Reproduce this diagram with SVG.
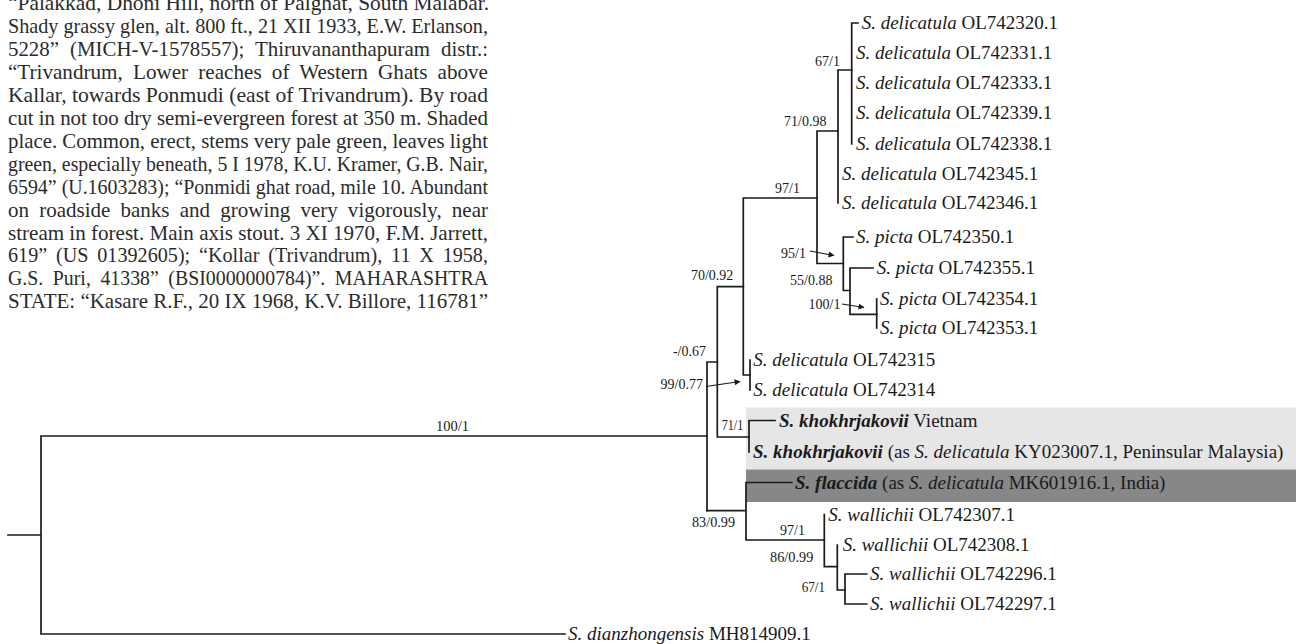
<svg xmlns="http://www.w3.org/2000/svg" width="1296" height="644" viewBox="0 0 1296 644">
<defs>
<style>
text{font-family:"Liberation Serif","Times New Roman",serif}
.body{font-size:21.5px;fill:#2b2b2b}
.tip{font-size:19px;fill:#1a1a1a}
.it{font-style:italic}
.bi{font-style:italic;font-weight:bold}
.sup{font-size:14px;fill:#1a1a1a}
.br{fill:none;stroke:#1a1a1a;stroke-width:1.7;stroke-linecap:square;stroke-linejoin:miter}
.ar{fill:none;stroke:#1a1a1a;stroke-width:1.1}
</style>
<marker id="ah" viewBox="0 0 10 10" refX="9" refY="5" markerWidth="8" markerHeight="6" orient="auto" markerUnits="userSpaceOnUse">
<path d="M0,0 L10,5 L0,10 z" fill="#1a1a1a"/>
</marker>
</defs>
<rect width="1296" height="644" fill="#ffffff"/>

<g id="specimen-text" class="body">
<text x="8" y="10" textLength="481" lengthAdjust="spacingAndGlyphs">“Palakkad, Dhoni Hill, north of Palghat, South Malabar.</text>
<text x="8" y="32.95" textLength="480" lengthAdjust="spacingAndGlyphs">Shady grassy glen, alt. 800 ft., 21 XII 1933, E.W. Erlanson,</text>
<text x="8" y="55.9" textLength="480" lengthAdjust="spacingAndGlyphs" word-spacing="6">5228” (MICH-V-1578557); Thiruvananthapuram distr.:</text>
<text x="8" y="78.85" textLength="480" lengthAdjust="spacingAndGlyphs" word-spacing="5">“Trivandrum, Lower reaches of Western Ghats above</text>
<text x="8" y="101.8" textLength="480" lengthAdjust="spacingAndGlyphs">Kallar, towards Ponmudi (east of Trivandrum). By road</text>
<text x="8" y="124.75" textLength="480" lengthAdjust="spacingAndGlyphs">cut in not too dry semi-evergreen forest at 350 m. Shaded</text>
<text x="8" y="147.7" textLength="480" lengthAdjust="spacingAndGlyphs">place. Common, erect, stems very pale green, leaves light</text>
<text x="8" y="170.65" textLength="480" lengthAdjust="spacingAndGlyphs">green, especially beneath, 5 I 1978, K.U. Kramer, G.B. Nair,</text>
<text x="8" y="193.6" textLength="480" lengthAdjust="spacingAndGlyphs">6594” (U.1603283); “Ponmidi ghat road, mile 10. Abundant</text>
<text x="8" y="216.55" textLength="480" lengthAdjust="spacingAndGlyphs" word-spacing="5">on roadside banks and growing very vigorously, near</text>
<text x="8" y="239.5" textLength="480" lengthAdjust="spacingAndGlyphs">stream in forest. Main axis stout. 3 XI 1970, F.M. Jarrett,</text>
<text x="8" y="262.45" textLength="480" lengthAdjust="spacingAndGlyphs" word-spacing="4">619” (US 01392605); “Kollar (Trivandrum), 11 X 1958,</text>
<text x="8" y="285.4" textLength="480" lengthAdjust="spacingAndGlyphs" word-spacing="5">G.S. Puri, 41338” (BSI0000000784)”. MAHARASHTRA</text>
<text x="8" y="308.35" textLength="480" lengthAdjust="spacingAndGlyphs">STATE: “Kasare R.F., 20 IX 1968, K.V. Billore, 116781”</text>
</g>

<g id="highlight-bands">
<rect x="746" y="407.5" width="550" height="62" fill="#e6e6e6"/>
<rect x="746" y="469.5" width="550" height="32.5" fill="#878787"/>
</g>

<g id="connectors">
<path class="br" d="M8,535 H41 M41,436 V634 M41,436 H707 M41,634 H565"/>
<path class="br" d="M707,362 V510.7 M707,362 H717.3"/>
<path class="br" d="M717.3,286.7 V437 M717.3,286.7 H743.3 M717.3,437 H749"/>
<path class="br" d="M743.3,198 V375 M743.3,198 H817 M743.3,375 H750"/>
<path class="br" d="M750,360 V390"/>
<path class="br" d="M817,131 V263.5 M817,131 H838 M817,263.5 H843.3"/>
<path class="br" d="M838,70 V203 M838,70 H851.7"/>
<path class="br" d="M851.7,23 V144 M851.7,23 H858"/>
<path class="br" d="M843.3,237 V290.5 M843.3,237 H853 M843.3,290.5 H850"/>
<path class="br" d="M850,268 V314.3 M850,268 H873 M850,314.3 H876.7"/>
<path class="br" d="M876.7,299 V328"/>
<path class="br" d="M749,420.5 V452 M749,420.5 H775"/>
<path class="br" d="M707,510.7 H746 M746,482.5 V540 M746,482.5 H791.7 M746,540 H824.3"/>
<path class="br" d="M824.3,514.5 V566.7 M824.3,566.7 H837.3"/>
<path class="br" d="M837.3,545 V590 M837.3,590 H845"/>
<path class="br" d="M845,574 V604 M845,574 H866.7 M845,604 H866.7"/>
<path class="ar" d="M810,251 L834,255.5" marker-end="url(#ah)"/>
<path class="ar" d="M842,304 L864,307.5" marker-end="url(#ah)"/>
<path class="ar" d="M706,386.5 L740,381.5" marker-end="url(#ah)"/>
</g>

<g id="support-labels" class="sup">
<text x="815" y="65.5">67/1</text>
<text x="784" y="126">71/0.98</text>
<text x="775" y="193.3">97/1</text>
<text x="781" y="258.3">95/1</text>
<text x="790" y="285">55/0.88</text>
<text x="808.5" y="309">100/1</text>
<text x="733.3" y="280" text-anchor="end">70/0.92</text>
<text x="706" y="356" text-anchor="end">-/0.67</text>
<text x="703" y="389" text-anchor="end">99/0.77</text>
<text x="721.7" y="430" textLength="21.6" lengthAdjust="spacingAndGlyphs">71/1</text>
<text x="692" y="527" textLength="43" lengthAdjust="spacingAndGlyphs">83/0.99</text>
<text x="780" y="535" textLength="25" lengthAdjust="spacingAndGlyphs">97/1</text>
<text x="770" y="561.7" textLength="43.3" lengthAdjust="spacingAndGlyphs">86/0.99</text>
<text x="801.7" y="591.7" textLength="23.3" lengthAdjust="spacingAndGlyphs">67/1</text>
<text x="436" y="431" textLength="33" lengthAdjust="spacingAndGlyphs">100/1</text>
</g>

<g class="tip">
<g id="tip-OL742320"><text x="861.7" y="29"><tspan class="it">S. delicatula</tspan> OL742320.1</text></g>
<g id="tip-OL742331"><text x="856" y="59"><tspan class="it">S. delicatula</tspan> OL742331.1</text></g>
<g id="tip-OL742333"><text x="856" y="89"><tspan class="it">S. delicatula</tspan> OL742333.1</text></g>
<g id="tip-OL742339"><text x="856" y="119"><tspan class="it">S. delicatula</tspan> OL742339.1</text></g>
<g id="tip-OL742338"><text x="856" y="150"><tspan class="it">S. delicatula</tspan> OL742338.1</text></g>
<g id="tip-OL742345"><text x="842" y="180"><tspan class="it">S. delicatula</tspan> OL742345.1</text></g>
<g id="tip-OL742346"><text x="842" y="209"><tspan class="it">S. delicatula</tspan> OL742346.1</text></g>
<g id="tip-OL742350"><text x="856" y="243"><tspan class="it">S. picta</tspan> OL742350.1</text></g>
<g id="tip-OL742355"><text x="876.7" y="274"><tspan class="it">S. picta</tspan> OL742355.1</text></g>
<g id="tip-OL742354"><text x="880" y="305"><tspan class="it">S. picta</tspan> OL742354.1</text></g>
<g id="tip-OL742353"><text x="880" y="334"><tspan class="it">S. picta</tspan> OL742353.1</text></g>
<g id="tip-OL742315"><text x="753.3" y="366"><tspan class="it">S. delicatula</tspan> OL742315</text></g>
<g id="tip-OL742314"><text x="753.3" y="396"><tspan class="it">S. delicatula</tspan> OL742314</text></g>
<g id="tip-khok-vietnam"><text x="779" y="426.5"><tspan class="bi">S. khokhrjakovii</tspan> Vietnam</text></g>
<g id="tip-khok-malaysia"><text x="753" y="458"><tspan class="bi">S. khokhrjakovii</tspan> (as <tspan class="it">S. delicatula</tspan> KY023007.1, Peninsular Malaysia)</text></g>
<g id="tip-flaccida"><text x="795" y="488.5"><tspan class="bi">S. flaccida</tspan> (as <tspan class="it">S. delicatula</tspan> MK601916.1, India)</text></g>
<g id="tip-OL742307"><text x="828.3" y="520.5"><tspan class="it">S. wallichii</tspan> OL742307.1</text></g>
<g id="tip-OL742308"><text x="842.7" y="551"><tspan class="it">S. wallichii</tspan> OL742308.1</text></g>
<g id="tip-OL742296"><text x="870" y="580"><tspan class="it">S. wallichii</tspan> OL742296.1</text></g>
<g id="tip-OL742297"><text x="870" y="610"><tspan class="it">S. wallichii</tspan> OL742297.1</text></g>
<g id="tip-MH814909"><text x="568" y="640"><tspan class="it">S. dianzhongensis</tspan> MH814909.1</text></g>
</g>
</svg>
